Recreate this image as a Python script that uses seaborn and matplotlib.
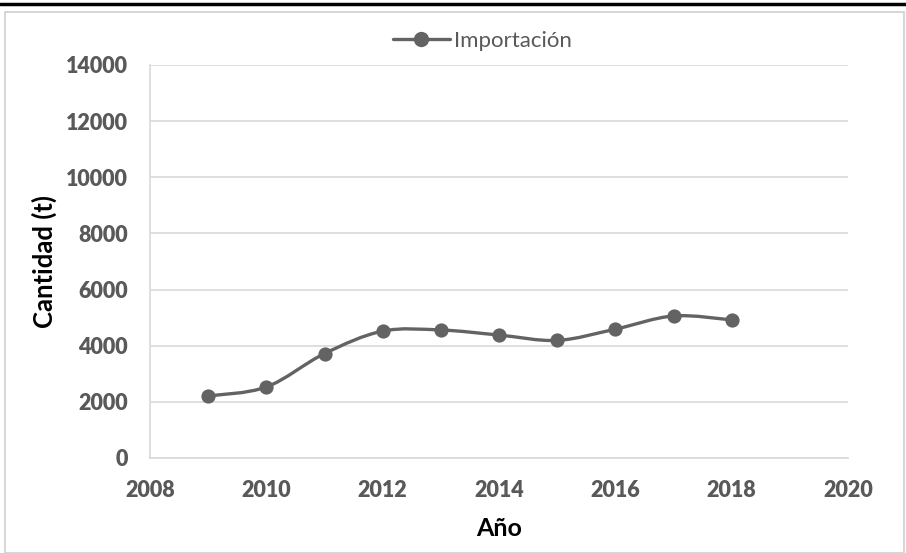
import numpy as np
import matplotlib
matplotlib.use("Agg")
import matplotlib.pyplot as plt
from matplotlib.path import Path
from matplotlib.patches import PathPatch, Rectangle
from matplotlib.lines import Line2D
import pandas as pd
import seaborn as sns

# data
years = [2009, 2010, 2011, 2012, 2013, 2014, 2015, 2016, 2017, 2018]
importacion = [2210, 2530, 3720, 4520, 4560, 4380, 4190, 4590, 5060, 4920]
series_name = "Importación"
x_ticks = [2008, 2010, 2012, 2014, 2016, 2018, 2020]
y_ticks = [0, 2000, 4000, 6000, 8000, 10000, 12000, 14000]

df = pd.DataFrame({"Año": years, "Cantidad": importacion})

sns.set_theme(style="white")
plt.rcParams["font.family"] = ["Lato", "DejaVu Sans"]

line_col = "#636363"
grid_col = "#d9d9d9"
tick_col = "#595959"

fig = plt.figure(figsize=(9.06, 5.53), dpi=100)
ax = fig.add_axes([150 / 906, 1 - 458 / 553, 698 / 906, 393 / 553])

# smoothed line (Excel-style Catmull-Rom bezier through the points)
x = np.array(years, dtype=float)
y = np.array(importacion, dtype=float)
verts = [(x[0], y[0])]
codes = [Path.MOVETO]
n = len(x)
for i in range(n - 1):
    p0 = (x[i - 1], y[i - 1]) if i > 0 else (x[i], y[i])
    p1 = (x[i], y[i])
    p2 = (x[i + 1], y[i + 1])
    p3 = (x[i + 2], y[i + 2]) if i + 2 < n else (x[i + 1], y[i + 1])
    c1 = (p1[0] + (p2[0] - p0[0]) / 6, p1[1] + (p2[1] - p0[1]) / 6)
    c2 = (p2[0] - (p3[0] - p1[0]) / 6, p2[1] - (p3[1] - p1[1]) / 6)
    verts += [c1, c2, p2]
    codes += [Path.CURVE4] * 3
ax.add_patch(PathPatch(Path(verts, codes), facecolor="none", edgecolor=line_col,
                       lw=2.4, capstyle="round", zorder=3))

sns.scatterplot(data=df, x="Año", y="Cantidad", ax=ax, color=line_col, s=105,
                edgecolor=line_col, linewidth=0, zorder=4, legend=False)

ax.set_xlim(2008, 2020)
ax.set_ylim(0, 14000)
ax.set_xticks(x_ticks, labels=[str(t) for t in x_ticks], fontweight="heavy",
              fontsize=15.5, color=tick_col)
ax.set_yticks(y_ticks, labels=[str(t) for t in y_ticks], fontweight="heavy",
              fontsize=15.5, color=tick_col)
ax.yaxis.grid(True, color=grid_col, lw=1.2)
ax.xaxis.grid(False)
for s in ["top", "right"]:
    ax.spines[s].set_visible(False)
ax.spines["left"].set_color(grid_col)
ax.spines["bottom"].set_color(grid_col)
ax.spines["left"].set_linewidth(1.2)
ax.spines["bottom"].set_linewidth(1.2)
ax.tick_params(length=0)
ax.tick_params(axis="x", pad=16)
ax.tick_params(axis="y", pad=16)

ax.set_xlabel("Año", fontsize=18, fontweight="bold", color="black")
ax.set_ylabel("Cantidad (t)", fontsize=18.5, fontweight="bold", color="black")
ax.xaxis.set_label_coords(0.5, (458 - 529) / 393)
ax.xaxis.label.set_va("center")
ax.yaxis.set_label_coords((44 - 150) / 698, 0.5)
ax.yaxis.label.set_va("center")

handle = Line2D([], [], color=line_col, lw=2.4, marker="o", markersize=10)
fig.legend([handle], [series_name], loc="center", bbox_to_anchor=(482 / 906, 1 - 41 / 553),
           frameon=False, fontsize=16, labelcolor=tick_col, handlelength=2.6,
           handletextpad=0.15)

# outer frame like the source document
fig.add_artist(Rectangle((5 / 906, 0), 899 / 906, 1 - 12 / 553, transform=fig.transFigure,
                         fill=False, edgecolor="#d0d0d0", lw=1.2))
fig.add_artist(Line2D([0, 1], [1 - 4 / 553, 1 - 4 / 553], transform=fig.transFigure,
                      color="black", lw=2.5))

fig.savefig("out.png", dpi=100)
